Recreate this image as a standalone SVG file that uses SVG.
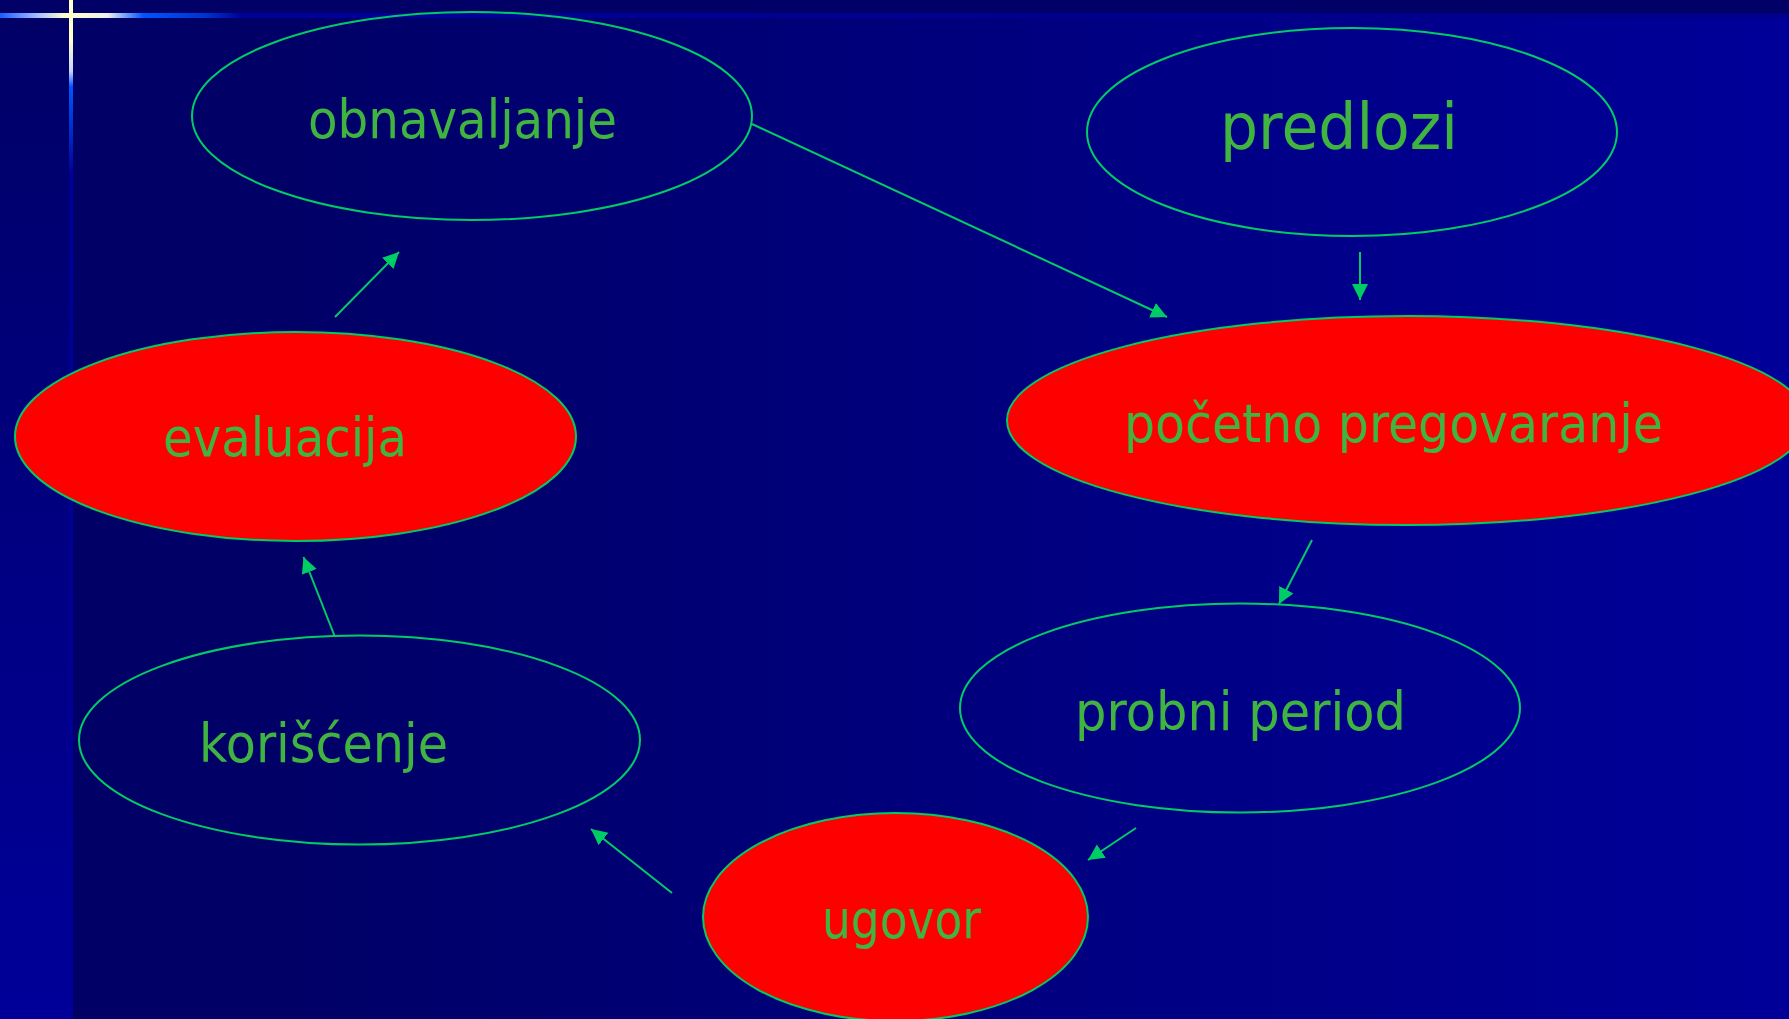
<svg xmlns="http://www.w3.org/2000/svg" width="1789" height="1019" viewBox="0 0 1789 1019">
<defs>
<linearGradient id="bgMain" x1="0" y1="0" x2="1789" y2="0" gradientUnits="userSpaceOnUse">
<stop offset="0" stop-color="#000066"/>
<stop offset="0.15" stop-color="#000066"/>
<stop offset="1" stop-color="#000099"/>
</linearGradient>
<linearGradient id="bgLeft" x1="0" y1="0" x2="0" y2="1019" gradientUnits="userSpaceOnUse">
<stop offset="0" stop-color="#000066"/>
<stop offset="1" stop-color="#000099"/>
</linearGradient>
<linearGradient id="hLine" x1="0" y1="0" x2="1789" y2="0" gradientUnits="userSpaceOnUse">
<stop offset="0" stop-color="#1a5cff"/>
<stop offset="0.02" stop-color="#9fb8ff"/>
<stop offset="0.036" stop-color="#ffffcc"/>
<stop offset="0.06" stop-color="#f0f0ee"/>
<stop offset="0.08" stop-color="#0055ff"/>
<stop offset="0.115" stop-color="#0033cc"/>
<stop offset="0.135" stop-color="#000099"/>
<stop offset="1" stop-color="#000088"/>
</linearGradient>
<linearGradient id="vLine" x1="0" y1="0" x2="0" y2="1019" gradientUnits="userSpaceOnUse">
<stop offset="0" stop-color="#ffffcc"/>
<stop offset="0.04" stop-color="#ffffcc"/>
<stop offset="0.07" stop-color="#c8d4ff"/>
<stop offset="0.085" stop-color="#0055ff"/>
<stop offset="0.14" stop-color="#0022bb"/>
<stop offset="0.17" stop-color="#000099"/>
<stop offset="1" stop-color="#000099"/>
</linearGradient>
<marker id="arrow" markerUnits="userSpaceOnUse" markerWidth="18" markerHeight="18" refX="16" refY="8" orient="auto">
<path d="M0,0 L16,8 L0,16 Z" fill="#00cc66"/>
</marker>
<style>
.node { stroke: #00cc66; stroke-width: 2; }
.plain { fill: none; }
.red { fill: #ff0000; }
.label { font-family: "DejaVu Sans", "Liberation Sans", sans-serif; font-size: 54px; fill: #40b440; }
.big { font-size: 64px; }
.conn { stroke: #00cc66; stroke-width: 2; fill: none; marker-end: url(#arrow); }
</style>
</defs>

<g id="background">
<rect x="0" y="0" width="1789" height="1019" fill="url(#bgMain)"/>
<rect x="0" y="0" width="70" height="1019" fill="url(#bgLeft)"/>
<rect x="0" y="0" width="1789" height="18" fill="#000066"/>
<rect x="0" y="13" width="1789" height="5" fill="url(#hLine)"/>
<rect x="69" y="0" width="4" height="1019" fill="url(#vLine)"/>
</g>

<g id="connectors">
<line class="conn" x1="752" y1="124" x2="1167" y2="317"/>
<line class="conn" x1="1360" y1="252" x2="1360" y2="300"/>
<line class="conn" x1="1312" y1="540" x2="1279" y2="604"/>
<line class="conn" x1="1136" y1="828" x2="1088" y2="860"/>
<line class="conn" x1="672" y1="893" x2="591" y2="829"/>
<line class="conn" x1="335" y1="637" x2="303.5" y2="557"/>
<line class="conn" x1="335" y1="317" x2="399" y2="252"/>
</g>

<g id="obnavaljanje">
<ellipse class="node plain" cx="472" cy="116" rx="280" ry="104"/>
<text class="label" x="308" y="138" textLength="309" lengthAdjust="spacingAndGlyphs">obnavaljanje</text>
</g>

<g id="predlozi">
<ellipse class="node plain" cx="1352" cy="132" rx="265" ry="104"/>
<text class="label big" x="1220" y="149" textLength="238" lengthAdjust="spacingAndGlyphs">predlozi</text>
</g>

<g id="pocetno-pregovaranje">
<ellipse class="node red" cx="1407" cy="420.5" rx="400" ry="104.5"/>
<text class="label" x="1124" y="442" textLength="539" lengthAdjust="spacingAndGlyphs">početno pregovaranje</text>
</g>

<g id="probni-period">
<ellipse class="node plain" cx="1240" cy="708" rx="280" ry="104.5"/>
<text class="label" x="1075" y="730" textLength="331" lengthAdjust="spacingAndGlyphs">probni period</text>
</g>

<g id="ugovor">
<ellipse class="node red" cx="895.5" cy="917" rx="192.5" ry="104"/>
<text class="label" x="822" y="938" textLength="159" lengthAdjust="spacingAndGlyphs">ugovor</text>
</g>

<g id="koriscenje">
<ellipse class="node plain" cx="359.5" cy="740" rx="280.5" ry="104.5"/>
<text class="label" x="199" y="762" textLength="249" lengthAdjust="spacingAndGlyphs">korišćenje</text>
</g>

<g id="evaluacija">
<ellipse class="node red" cx="295.5" cy="436.5" rx="280.5" ry="104.5"/>
<text class="label" x="163" y="456" textLength="244" lengthAdjust="spacingAndGlyphs">evaluacija</text>
</g>
</svg>
